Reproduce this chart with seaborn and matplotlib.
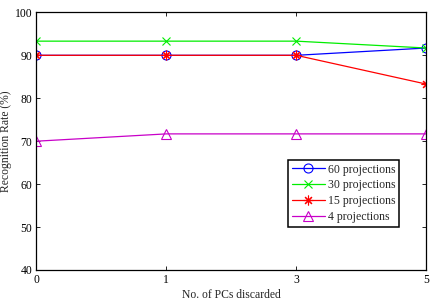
import pandas as pd
import matplotlib.pyplot as plt
import seaborn as sns

# data
pcs_discarded = ["0", "1", "3", "5"]
rate_60 = [90.0, 90.0, 90.0, 91.7]
rate_30 = [93.3, 93.3, 93.3, 91.7]
rate_15 = [90.0, 90.0, 90.0, 83.3]
rate_4 = [70.0, 71.7, 71.7, 71.7]

series = [
    ("60 projections", rate_60, "#0000ff", "o", 6.5),
    ("30 projections", rate_30, "#00ee00", "x", 5.5),
    ("15 projections", rate_15, "#ff0000", (8, 2, 0), 7),
    ("4 projections", rate_4, "#c800c8", "^", 7.5),
]

sns.set_style("ticks")
plt.rcParams["font.family"] = ["Liberation Serif", "DejaVu Serif"]

fig = plt.figure(figsize=(4.34, 3.02), dpi=100)
ax = fig.add_axes([0.084, 0.106, 0.898, 0.853])

pos = list(range(len(pcs_discarded)))
for name, vals, color, marker, ms in series:
    df = pd.DataFrame({"pos": pos, "rate": vals})
    sns.lineplot(data=df, x="pos", y="rate", ax=ax, color=color, marker=marker,
                 markersize=ms, markerfacecolor="none" if marker in ("o", "^") else color,
                 markeredgecolor=color, markeredgewidth=0.8, linewidth=0.9, label=name)

ax.set_xlim(0, 3)
ax.set_ylim(40, 100)
ax.set_xticks(pos)
ax.set_xticklabels(pcs_discarded)
ax.set_yticks([40, 50, 60, 70, 80, 90, 100])
ax.set_xlabel("No. of PCs discarded", labelpad=2, fontsize=8.4)
ax.set_ylabel("Recognition Rate (%)", labelpad=2, fontsize=8.4)
ax.tick_params(direction="in", top=True, right=True, length=3, width=0.6,
               labelsize=8.4, colors="black", pad=3)
for s in ax.spines.values():
    s.set_linewidth(0.9)
    s.set_color("black")

leg = ax.legend(loc="upper right", bbox_to_anchor=(0.931, 0.427), fancybox=False,
                framealpha=1, edgecolor="black", fontsize=8.5, handlelength=2.8,
                borderpad=0.3, labelspacing=0.33, handletextpad=0.3, borderaxespad=0)
leg.get_frame().set_linewidth(1.1)

fig.savefig("out.png", dpi=100)
